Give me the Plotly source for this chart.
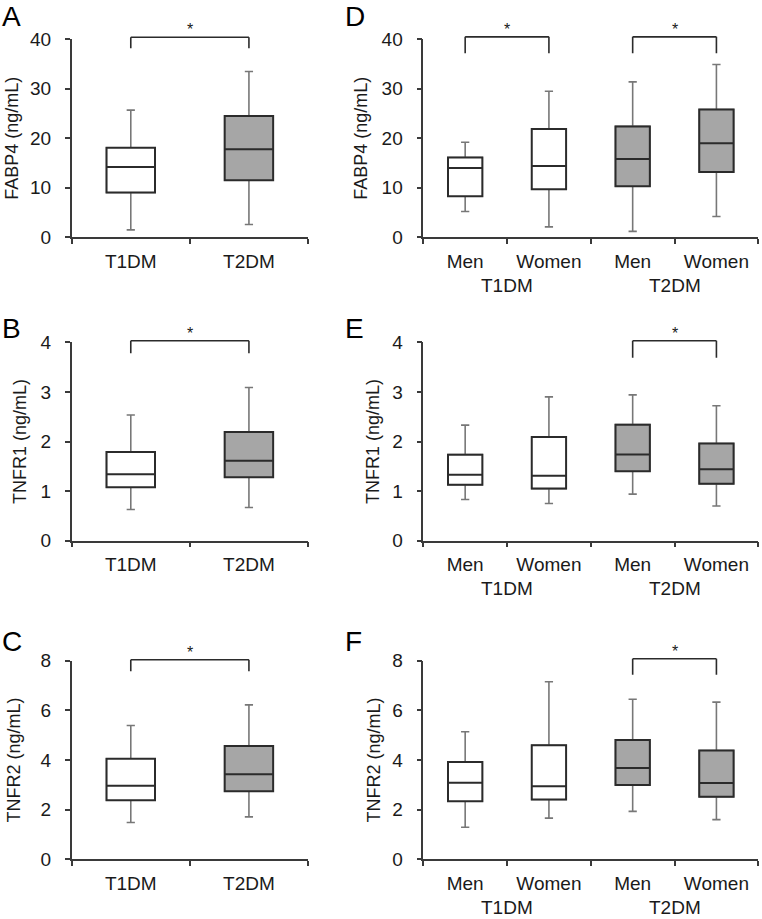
import plotly.graph_objects as go

W, H = 762, 919

# ---------------- data ----------------
types = ["T1DM", "T2DM"]
sexes = ["Men", "Women"]

# Panels A-C: by diabetes type (T1DM, T2DM)
fabp4_type = dict(lower=[1.5, 2.6], q1=[9.05, 11.55], median=[14.2, 17.8],
                  q3=[18.1, 24.5], upper=[25.7, 33.5])
tnfr1_type = dict(lower=[0.63, 0.67], q1=[1.08, 1.28], median=[1.34, 1.61],
                  q3=[1.79, 2.19], upper=[2.535, 3.09])
tnfr2_type = dict(lower=[1.48, 1.71], q1=[2.38, 2.74], median=[2.96, 3.43],
                  q3=[4.05, 4.56], upper=[5.39, 6.22])

# Panels D-F: T1DM Men, T1DM Women, T2DM Men, T2DM Women
fabp4_sex = dict(lower=[5.2, 2.1, 1.2, 4.2], q1=[8.3, 9.7, 10.3, 13.2],
                 median=[14.0, 14.4, 15.8, 19.0], q3=[16.1, 21.9, 22.4, 25.8],
                 upper=[19.2, 29.5, 31.4, 34.9])
tnfr1_sex = dict(lower=[0.83, 0.75, 0.94, 0.70], q1=[1.13, 1.05, 1.40, 1.15],
                 median=[1.33, 1.31, 1.74, 1.44], q3=[1.735, 2.09, 2.34, 1.96],
                 upper=[2.33, 2.90, 2.94, 2.72])
tnfr2_sex = dict(lower=[1.29, 1.66, 1.93, 1.60], q1=[2.34, 2.41, 2.99, 2.52],
                 median=[3.08, 2.94, 3.68, 3.07], q3=[3.92, 4.59, 4.81, 4.38],
                 upper=[5.14, 7.15, 6.45, 6.33])

y_titles = ["FABP4 (ng/mL)", "TNFR1 (ng/mL)", "TNFR2 (ng/mL)"]
y_max = [40, 4, 8]
y_step = [10, 1, 2]

# significance brackets: (first index, second index, bracket top, leg end)
brackets_type = [[(0, 1, 40.4, 38.2)], [(0, 1, 4.03, 3.78)], [(0, 1, 8.04, 7.57)]]
brackets_sex = [[(0, 1, 40.5, 37.2), (2, 3, 40.5, 37.2)],
                [(2, 3, 4.03, 3.69)],
                [(2, 3, 8.08, 7.43)]]

letters_left = ["A", "B", "C"]
letters_right = ["D", "E", "F"]

# ---------------- styling / layout (pixels) ----------------
FONT = "Arial, 'Liberation Sans', sans-serif"
TXT = "#1a1a1a"
AXC = "#3a3a3a"
BOXLINE = "#2b2b2b"
WHISK = "#777777"
FILL = {"T1DM": "#ffffff", "T2DM": "#a6a6a6"}

col_px = [(71.7, 308.0), (423.3, 758.3)]
row_px = [(39.3, 237.3), (342.3, 540.7), (660.7, 859.3)]
letter_cap_top = [5, 317, 630]
letter_x = [0, 343]
title_standoff = [[7, 9], [9, 8], [15, 7]]


def dx(p):
    return [p[0] / W, p[1] / W]


def dy(p):
    return [1 - p[1] / H, 1 - p[0] / H]


fig = go.Figure()
layout = {}
annotations = []
shapes = []

ax = 0
for r in range(3):
    for c in range(2):
        ax += 1
        xa = "x" if ax == 1 else f"x{ax}"
        ya = "y" if ax == 1 else f"y{ax}"
        xkey = "xaxis" if ax == 1 else f"xaxis{ax}"
        ykey = "yaxis" if ax == 1 else f"yaxis{ax}"

        if c == 0:
            stats = [fabp4_type, tnfr1_type, tnfr2_type][r]
            labels = list(types)
            fills = [FILL[t] for t in types]
            brks = brackets_type[r]
            wwidth = 0.17
        else:
            stats = [fabp4_sex, tnfr1_sex, tnfr2_sex][r]
            labels = [s for t in types for s in sexes]
            fills = [FILL[t] for t in types for s in sexes]
            brks = brackets_sex[r]
            wwidth = 0.24
        n = len(labels)

        for i in range(n):
            # whisker layer (grey)
            fig.add_trace(go.Box(
                x=[i], q1=[stats["q1"][i]], median=[stats["median"][i]],
                q3=[stats["q3"][i]], lowerfence=[stats["lower"][i]],
                upperfence=[stats["upper"][i]], width=0.41, whiskerwidth=wwidth,
                line=dict(color=WHISK, width=1.6), fillcolor=fills[i],
                boxpoints=False, showlegend=False, hoverinfo="skip",
                xaxis=xa, yaxis=ya))
            # box layer (dark outline)
            fig.add_trace(go.Box(
                x=[i], q1=[stats["q1"][i]], median=[stats["median"][i]],
                q3=[stats["q3"][i]], lowerfence=[stats["q1"][i]],
                upperfence=[stats["q3"][i]], width=0.41, whiskerwidth=0,
                line=dict(color=BOXLINE, width=2), fillcolor=fills[i],
                boxpoints=False, showlegend=False, hoverinfo="skip",
                xaxis=xa, yaxis=ya))

        layout[xkey] = dict(domain=dx(col_px[c]), anchor=ya, showline=True,
                            linecolor=AXC, linewidth=1.5, automargin=False,
                            tickmode="array", tickvals=list(range(n)), ticktext=labels,
                            ticks="", ticklabelstandoff=6, ticklabeloverflow="allow",
                            minor=dict(tickmode="array",
                                       tickvals=[k - 0.5 for k in range(n + 1)],
                                       ticks="outside", ticklen=5, tickcolor=AXC,
                                       tickwidth=1.5, showgrid=False),
                            showgrid=False, zeroline=False,
                            tickfont=dict(family=FONT, size=19, color=TXT),
                            range=[-0.5, n - 0.5], fixedrange=True)
        layout[ykey] = dict(domain=dy(row_px[r]), anchor=xa, range=[0, y_max[r]],
                            automargin=False, tickmode="array",
                            tickvals=list(range(0, y_max[r] + 1, y_step[r])),
                            showline=True, linecolor=AXC, linewidth=1.5,
                            ticks="outside", ticklen=5, tickcolor=AXC, tickwidth=1.5,
                            ticklabelstandoff=10,
                            showgrid=False, zeroline=False, ticklabeloverflow="allow",
                            tickfont=dict(family=FONT, size=19, color=TXT),
                            title=dict(text=y_titles[r], standoff=title_standoff[r][c],
                                       font=dict(family=FONT, size=18, color=TXT)),
                            fixedrange=True)

        # group labels under Men/Women pairs
        if c == 1:
            for g, t in enumerate(types):
                annotations.append(dict(text=t, x=2 * g + 0.5, y=0, xref=xa,
                                        yref=f"{ya} domain", xanchor="center",
                                        yanchor="middle", yshift=-48, showarrow=False,
                                        font=dict(family=FONT, size=19, color=TXT)))

        # significance brackets (three line segments each)
        for (i, j, top, leg) in brks:
            for (x0, y0, x1, y1) in [(i, leg, i, top), (i, top, j, top), (j, top, j, leg)]:
                shapes.append(dict(type="line", x0=x0, x1=x1,
                                   y0=y0 / y_max[r], y1=y1 / y_max[r],
                                   xref=xa, yref=f"{ya} domain",
                                   line=dict(color=BOXLINE, width=1.6)))
            annotations.append(dict(text="*", x=(i + j) / 2, y=top / y_max[r],
                                    xref=xa, yref=f"{ya} domain",
                                    xanchor="center", yanchor="bottom", yshift=-3,
                                    showarrow=False,
                                    font=dict(family=FONT, size=16, color=TXT)))

        # panel letter
        letter = letters_left[r] if c == 0 else letters_right[r]
        annotations.append(dict(text=letter, x=letter_x[c] / W,
                                y=1 - (letter_cap_top[r] - 6) / H,
                                xref="paper", yref="paper", xanchor="left",
                                yanchor="top", showarrow=False,
                                font=dict(family=FONT, size=28, color="#000000")))

fig.update_layout(width=W, height=H, margin=dict(l=0, r=0, t=0, b=0, autoexpand=False),
                  paper_bgcolor="white", plot_bgcolor="white",
                  boxmode="overlay", showlegend=False,
                  font=dict(family=FONT, color=TXT),
                  shapes=shapes, annotations=annotations, **layout)

fig.write_html("out.html", config={"displayModeBar": False},
               post_script="document.body.style.margin='0px';"
                           "document.body.style.overflow='hidden';")
